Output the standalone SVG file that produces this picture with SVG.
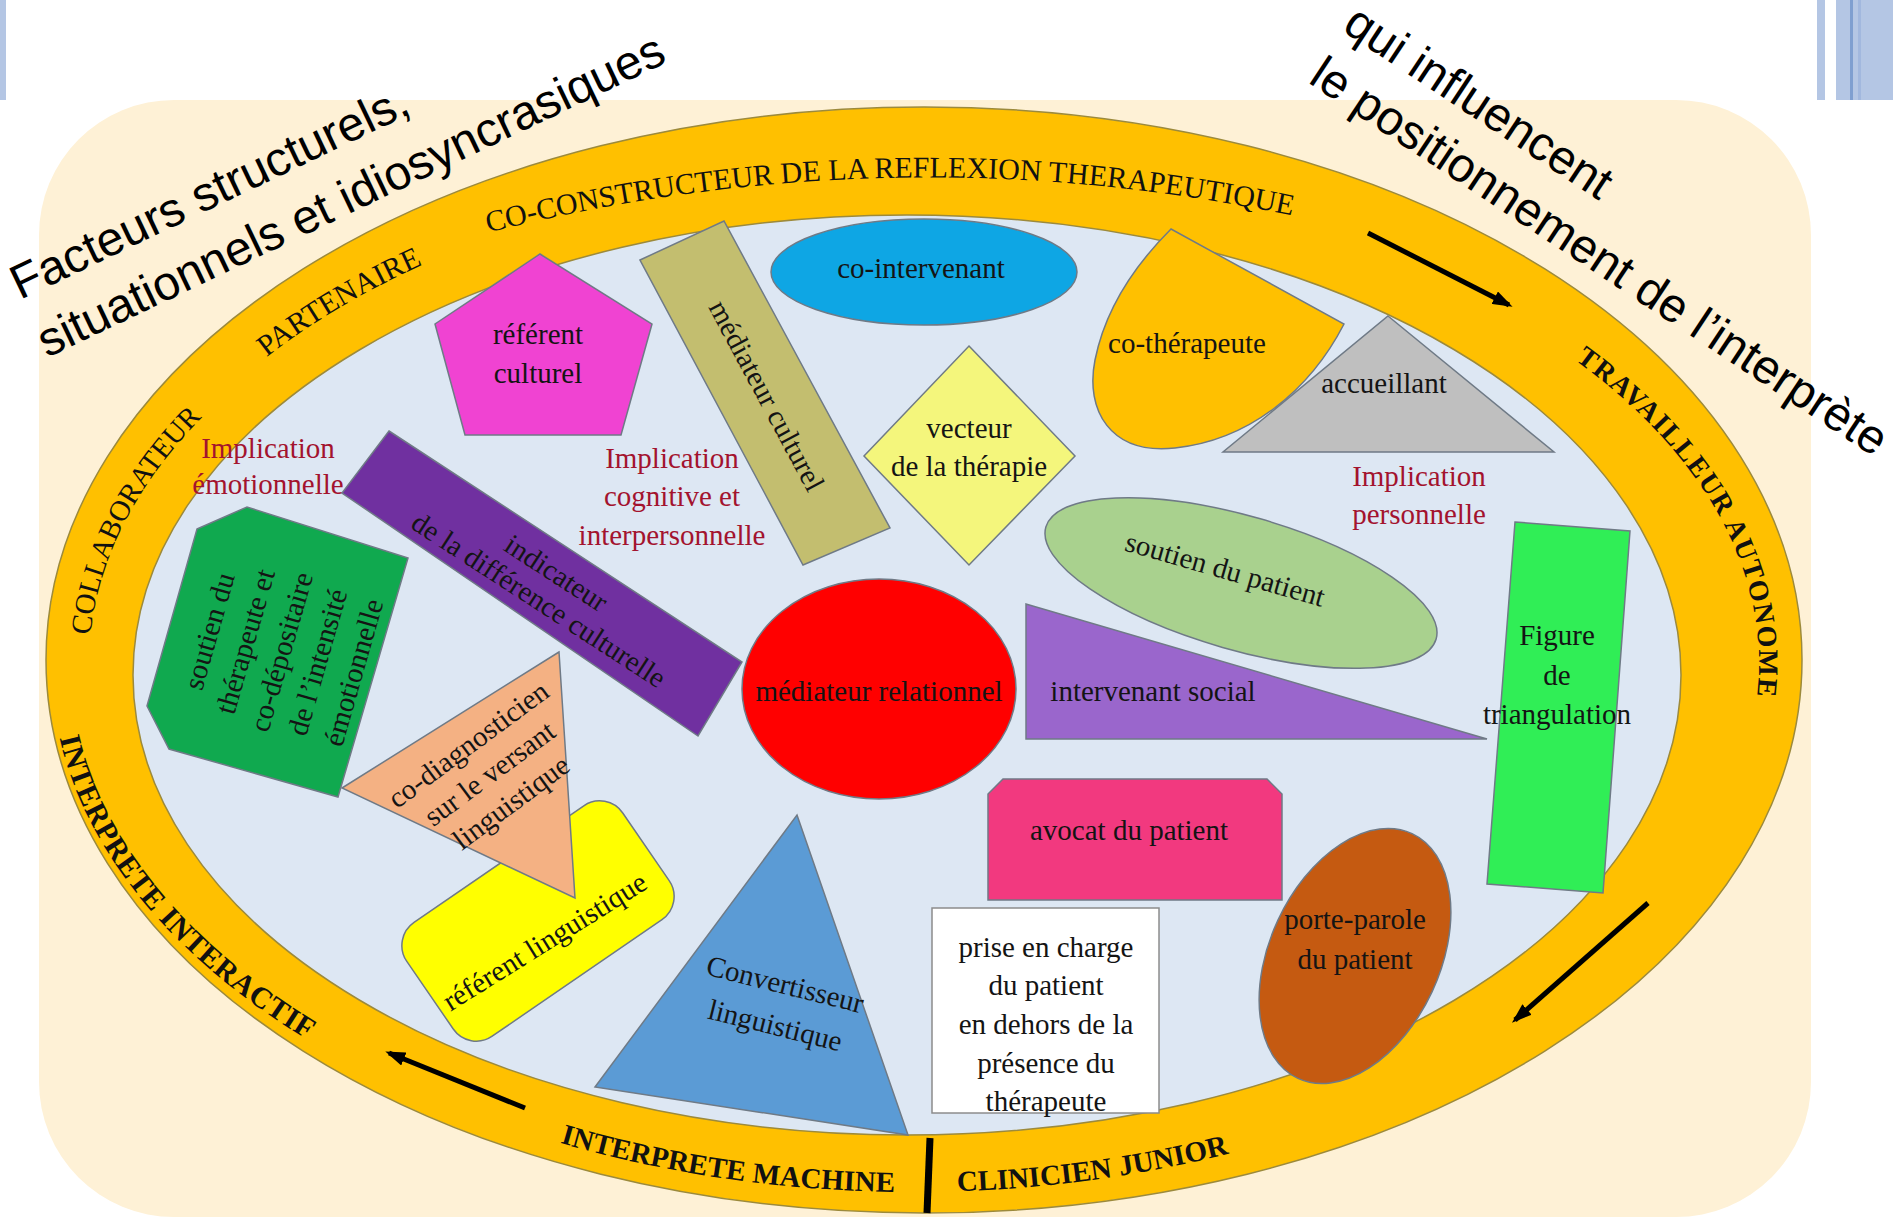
<svg xmlns="http://www.w3.org/2000/svg" width="1893" height="1217" viewBox="0 0 1893 1217">
  <style>
    .lbl { font-family: "Liberation Serif", "Times New Roman", serif; font-size: 29px; fill: #141414; text-anchor: middle; }
    .imp { font-family: "Liberation Serif", "Times New Roman", serif; font-size: 29px; fill: #A3132E; text-anchor: middle; }
    .ring { font-family: "Liberation Serif", "Times New Roman", serif; font-size: 30px; fill: #111; }
    .ringb { font-family: "Liberation Serif", "Times New Roman", serif; font-size: 29px; fill: #111; font-weight: bold; }
    .big { font-family: "Liberation Sans", Arial, sans-serif; font-size: 48px; fill: #000; }
    .edge { stroke: #6f7a86; stroke-width: 1.5; }
    .arrow { stroke: #000; stroke-width: 5; fill: none; marker-end: url(#head); }
  </style>
  <defs>
    <marker id="head" viewBox="0 0 20 14" refX="16" refY="7" markerWidth="20" markerHeight="14" markerUnits="userSpaceOnUse" orient="auto">
      <path d="M0,0 L20,7 L0,14 z" fill="#000"/>
    </marker>
    <!-- baselines for the ring labels -->
    <path id="pCoco" d="M380,263 Q927,91.8 1474,263"/>
    <path id="pPart" d="M172.1,449.6 A822,498 0 0 1 547.2,218.3"/>
    <path id="pColl" d="M97,731.9 A825,488 0 0 1 276.5,354.3"/>
    <path id="pTrav" d="M1434.3,279.5 A845,488 0 0 1 1697.5,846.8"/>
    <path id="pInter" d="M53.1,627.1 A863,528 0 0 0 406.7,1091.2"/>
    <path id="pMach" d="M421.4,1091.7 A840,528 0 0 0 1042.5,1185.8"/>
    <path id="pClin" d="M807.2,1187.7 A840,528 0 0 0 1371.5,1106.8"/>
  </defs>

  <!-- page -->
  <rect width="1893" height="1217" fill="#fff"/>
  <rect x="0" y="0" width="6" height="100" fill="#B4C6E4"/>
  <rect x="1817" y="0" width="8" height="100" fill="#B4C6E4"/>
  <rect x="1836" y="0" width="57" height="100" fill="#B4C6E4"/>
  <rect x="1850" y="0" width="3" height="100" fill="#7F9FD0"/>
  <rect x="1858" y="0" width="3" height="100" fill="#A2B8DE"/>

  <g id="background">
    <rect x="39" y="100" width="1772" height="1117" rx="135" fill="#FEF1D6"/>
  </g>

  <g id="ring">
    <ellipse cx="924" cy="660" rx="878" ry="553" fill="#FFC000" stroke="#9c8a3c" stroke-width="1.5"/>
    <ellipse cx="907" cy="675" rx="774" ry="460" fill="#DDE7F3" stroke="#9c8a3c" stroke-width="1.5"/>
    <text class="ring"><textPath href="#pCoco" startOffset="46.6%" text-anchor="middle">CO-CONSTRUCTEUR DE  LA REFLEXION THERAPEUTIQUE</textPath></text>
    <text class="ring"><textPath href="#pPart" startOffset="50%" text-anchor="middle">PARTENAIRE</textPath></text>
    <text class="ring" style="font-size:29px"><textPath href="#pColl" startOffset="50%" text-anchor="middle">COLLABORATEUR</textPath></text>
    <text class="ringb" style="font-size:28px;letter-spacing:1.5px"><textPath href="#pTrav" startOffset="50%" text-anchor="middle">TRAVAILLEUR AUTONOME</textPath></text>
    <text class="ringb" style="font-size:30px;letter-spacing:0.5px"><textPath href="#pInter" startOffset="50%" text-anchor="middle">INTERPRETE INTERACTIF</textPath></text>
    <text class="ringb"><textPath href="#pMach" startOffset="50%" text-anchor="middle">INTERPRETE MACHINE</textPath></text>
    <text class="ringb"><textPath href="#pClin" startOffset="50%" text-anchor="middle">CLINICIEN JUNIOR</textPath></text>
  </g>

  <g id="connectors">
    <line class="arrow" x1="1368" y1="233" x2="1509" y2="305"/>
    <line class="arrow" x1="1648" y1="903" x2="1515" y2="1020"/>
    <line class="arrow" x1="525" y1="1108" x2="389" y2="1053"/>
    <line x1="930" y1="1138" x2="927" y2="1213" stroke="#000" stroke-width="7"/>
  </g>

  <g id="referent-culturel">
    <polygon class="edge" points="540,254 652,324 621,435 465,435 435,324" fill="#F043D2"/>
    <text class="lbl" x="538" y="344">référent</text>
    <text class="lbl" x="538" y="383">culturel</text>
  </g>

  <g id="mediateur-culturel">
    <polygon class="edge" points="640,260 724,221 890,528 803,565" fill="#C3BE6F"/>
    <text class="lbl" transform="translate(766,396) rotate(61.7)" x="0" y="9">médiateur culturel</text>
  </g>

  <g id="co-intervenant">
    <ellipse class="edge" cx="924" cy="272" rx="153" ry="53" fill="#0EA6E4"/>
    <text class="lbl" x="921" y="278">co-intervenant</text>
  </g>

  <g id="co-therapeute">
    <path class="edge" d="M1171,229 L1344,324 C1310,390 1250,440 1175,448 C1110,455 1085,410 1095,360 C1105,310 1135,265 1171,229 Z" fill="#FFC000"/>
    <text class="lbl" x="1187" y="353">co-thérapeute</text>
  </g>

  <g id="accueillant">
    <polygon class="edge" points="1388,316 1554,452 1223,452" fill="#BFBFBF"/>
    <text class="lbl" x="1384" y="393">accueillant</text>
  </g>

  <g id="vecteur">
    <polygon class="edge" points="969,346 1075,456 969,565 864,456" fill="#F4F67C"/>
    <text class="lbl" x="969" y="438">vecteur</text>
    <text class="lbl" x="969" y="476">de la thérapie</text>
  </g>

  <g id="implication-emotionnelle">
    <text class="imp" x="268" y="458">Implication</text>
    <text class="imp" x="268" y="494">émotionnelle</text>
  </g>
  <g id="implication-cognitive">
    <text class="imp" x="672" y="468">Implication</text>
    <text class="imp" x="672" y="506">cognitive et</text>
    <text class="imp" x="672" y="545">interpersonnelle</text>
  </g>
  <g id="implication-personnelle">
    <text class="imp" x="1419" y="486">Implication</text>
    <text class="imp" x="1419" y="524">personnelle</text>
  </g>

  <g id="indicateur">
    <polygon class="edge" points="389,431 742,662 698,736 342,493" fill="#7030A0"/>
    <g transform="translate(543.5,583.5) rotate(33)">
      <text class="lbl" x="5" y="-6">indicateur</text>
      <text class="lbl" x="5" y="26">de la différence culturelle</text>
    </g>
  </g>

  <g id="soutien-therapeute">
    <polygon class="edge" points="197,529 247,507 408,558 338,797 169,749 147,706" fill="#10A94F"/>
    <g transform="translate(282,652) rotate(-74)" style="font-size:28px">
      <text class="lbl" x="0" y="-66">soutien du</text>
      <text class="lbl" x="0" y="-28.5">thérapeute et</text>
      <text class="lbl" x="0" y="9">co-dépositaire</text>
      <text class="lbl" x="0" y="46.5">de l’intensité</text>
      <text class="lbl" x="0" y="84">émotionnelle</text>
    </g>
  </g>

  <g id="referent-linguistique">
    <rect class="edge" x="-131" y="-69" width="262" height="138" rx="28" transform="translate(538,921) rotate(-34.5)" fill="#FFFF00"/>
    <text class="lbl" transform="translate(545,942) rotate(-32)" x="0" y="9">référent linguistique</text>
  </g>

  <g id="co-diagnosticien">
    <polygon class="edge" points="559,652 342,788 575,898" fill="#F4B183"/>
    <g transform="translate(490,774) rotate(-36.5)">
      <text class="lbl" x="0" y="-27">co-diagnosticien</text>
      <text class="lbl" x="0" y="9">sur le versant</text>
      <text class="lbl" x="0" y="45">linguistique</text>
    </g>
  </g>

  <g id="mediateur-relationnel">
    <ellipse class="edge" cx="879" cy="689" rx="137" ry="110" fill="#FF0000"/>
    <text class="lbl" x="879" y="701">médiateur relationnel</text>
  </g>

  <g id="intervenant-social">
    <polygon class="edge" points="1026,604 1026,739 1487,739" fill="#9A66CC"/>
    <text class="lbl" x="1153" y="701">intervenant social</text>
  </g>

  <g id="soutien-patient">
    <ellipse class="edge" cx="1241" cy="583" rx="203" ry="67" transform="rotate(16 1241 583)" fill="#A9D18E"/>
    <text class="lbl" transform="translate(1225,570) rotate(16)" x="0" y="9">soutien du patient</text>
  </g>

  <g id="figure-triangulation">
    <polygon class="edge" points="1515,522 1630,531 1603,893 1487,884" fill="#30EE56"/>
    <text class="lbl" x="1557" y="645">Figure</text>
    <text class="lbl" x="1557" y="685">de</text>
    <text class="lbl" x="1557" y="724">triangulation</text>
  </g>

  <g id="avocat">
    <polygon class="edge" points="1003,779 1267,779 1282,794 1282,900 988,900 988,794" fill="#F2397F"/>
    <text class="lbl" x="1129" y="840">avocat du patient</text>
  </g>

  <g id="prise-en-charge">
    <rect x="932" y="908" width="227" height="205" fill="#fff" stroke="#8c8c8c" stroke-width="1.5"/>
    <text class="lbl" x="1046" y="957">prise en charge</text>
    <text class="lbl" x="1046" y="995">du patient</text>
    <text class="lbl" x="1046" y="1034">en dehors de la</text>
    <text class="lbl" x="1046" y="1073">présence du</text>
    <text class="lbl" x="1046" y="1111">thérapeute</text>
  </g>

  <g id="porte-parole">
    <ellipse class="edge" cx="1355" cy="956" rx="85" ry="135" transform="rotate(25 1355 956)" fill="#C55A11"/>
    <text class="lbl" x="1355" y="929">porte-parole</text>
    <text class="lbl" x="1355" y="969">du patient</text>
  </g>

  <g id="convertisseur">
    <polygon class="edge" points="797,815 908,1135 595,1087" fill="#5B9BD5"/>
    <text class="lbl" transform="translate(785,985) rotate(14)" x="0" y="9">Convertisseur</text>
    <text class="lbl" transform="translate(775,1026) rotate(14)" x="0" y="9">linguistique</text>
  </g>

  <g id="titre">
    <text class="big" transform="translate(20,300) rotate(-25.5)">Facteurs structurels,</text>
    <text class="big" transform="translate(47,358) rotate(-25.5)">situationnels et idiosyncrasiques</text>
    <text class="big" transform="translate(1341,30) rotate(33.5)">qui influencent</text>
    <text class="big" transform="translate(1307,82) rotate(33.5)">le positionnement de l’interprète</text>
  </g>
</svg>
